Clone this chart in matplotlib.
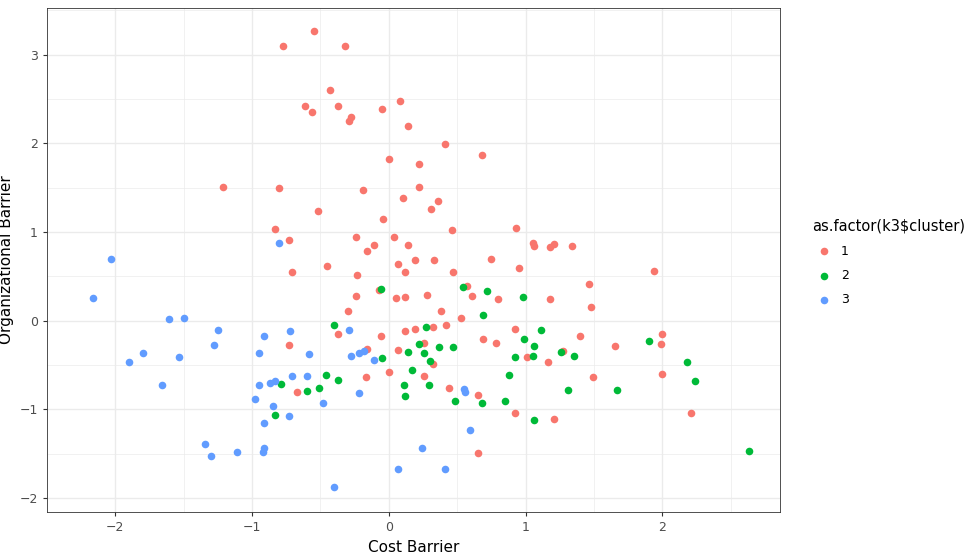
import matplotlib
matplotlib.use("Agg")
import matplotlib.pyplot as plt
import numpy as np

c1_x = [-0.55,-0.77,-0.32,-0.43,-0.61,-0.56,-0.37,-0.28,-0.29,0.08,-0.05,0.14,0.41,0,0.22,0.68,-1.21,-0.80,0.22,-0.19,0.10,0.36,0.31,-0.52,-0.04,0.46,0.93,-0.83,-0.73,-0.24,0.04,0.14,-0.16,-0.11,1.05,1.06,1.21,1.18,1.34,1.94,-0.71,-0.45,-0.23,0.07,0.19,0.33,0.12,0.47,0.75,0.95,1.46,-0.07,-0.24,0.12,0.05,0.28,0.57,0.61,0.80,1.18,1.48,0.38,-0.30,0.53,0.42,0.32,0.12,0.19,-0.06,-0.37,0.92,1.40,2.00,0.69,0.78,0.26,0.07,-0.16,-0.73,1.27,1.65,1.99,1.01,1.16,0.32,0,0.26,-0.17,1.49,2.00,0.44,-0.67,0.65,0.92,1.21,2.21,0.65]
c1_y = [3.27,3.10,3.10,2.60,2.42,2.35,2.42,2.30,2.25,2.48,2.39,2.20,1.99,1.82,1.77,1.87,1.51,1.50,1.51,1.47,1.39,1.35,1.26,1.24,1.15,1.02,1.05,1.04,0.91,0.94,0.94,0.85,0.79,0.85,0.88,0.84,0.87,0.83,0.84,0.56,0.55,0.62,0.52,0.64,0.69,0.69,0.55,0.55,0.70,0.59,0.41,0.35,0.28,0.27,0.26,0.29,0.39,0.28,0.24,0.24,0.15,0.11,0.11,0.03,-0.05,-0.07,-0.12,-0.09,-0.17,-0.15,-0.09,-0.17,-0.15,-0.21,-0.25,-0.25,-0.33,-0.32,-0.27,-0.34,-0.29,-0.26,-0.41,-0.46,-0.49,-0.58,-0.62,-0.64,-0.64,-0.60,-0.76,-0.80,-0.84,-1.04,-1.11,-1.04,-1.49]
c2_x = [-0.06,0.54,0.72,0.98,0.69,-0.40,0.27,1.11,0.22,0.47,0.37,0.99,1.06,1.26,1.35,1.90,0.14,0.26,0.30,0.92,1.05,-0.05,0.17,2.18,-0.46,-0.37,-0.79,2.24,0.88,0.11,0.29,-0.51,-0.60,1.67,1.31,0.12,0.48,0.68,0.85,-0.83,1.06,2.63]
c2_y = [0.36,0.38,0.33,0.27,0.06,-0.05,-0.07,-0.10,-0.26,-0.30,-0.30,-0.21,-0.29,-0.35,-0.40,-0.23,-0.35,-0.36,-0.45,-0.41,-0.40,-0.42,-0.56,-0.47,-0.61,-0.67,-0.71,-0.68,-0.61,-0.73,-0.73,-0.76,-0.79,-0.78,-0.78,-0.85,-0.90,-0.93,-0.90,-1.06,-1.12,-1.47]
c3_x = [-2.03,-2.16,-1.50,-1.61,-1.25,-1.28,-1.80,-1.53,-1.90,-1.66,-0.80,-0.91,-0.72,-0.95,-0.29,-0.22,-0.18,-0.28,-0.11,-0.58,-0.95,-0.87,-0.83,-0.71,-0.60,-0.98,-0.85,-0.48,-0.22,-0.73,-0.91,0.55,0.56,0.59,-1.34,-1.30,-1.11,-0.91,-0.92,0.24,0.07,0.41,-0.40]
c3_y = [0.70,0.26,0.03,0.02,-0.10,-0.27,-0.36,-0.41,-0.47,-0.73,0.88,-0.17,-0.11,-0.36,-0.10,-0.36,-0.34,-0.40,-0.44,-0.38,-0.73,-0.70,-0.68,-0.62,-0.62,-0.88,-0.96,-0.93,-0.82,-1.07,-1.15,-0.77,-0.80,-1.23,-1.39,-1.52,-1.48,-1.44,-1.48,-1.44,-1.67,-1.67,-1.88]
labels = ["1", "2", "3"]
colors = ["#F8766D", "#00BA38", "#619CFF"]

fig = plt.figure(figsize=(9.74, 5.58), dpi=100)
ax = fig.add_axes([0.048, 0.082, 0.753, 0.904])
for xs, ys, lab, col in zip([c1_x, c2_x, c3_x], [c1_y, c2_y, c3_y], labels, colors):
    ax.scatter(xs, ys, s=30, color=col, label=lab, linewidths=0, zorder=3)
ax.set_xlim(-2.42, 2.86)
ax.set_ylim(-2.16, 3.53)
ax.set_xticks([-2, -1, 0, 1, 2])
ax.set_yticks([-2, -1, 0, 1, 2, 3])
ax.set_xticks(np.arange(-2.5, 3, 1), minor=True)
ax.set_yticks(np.arange(-1.5, 3.6, 1), minor=True)
ax.grid(True, which="major", color="#EBEBEB", lw=1.0, zorder=0)
ax.grid(True, which="minor", color="#EBEBEB", lw=0.5, zorder=0)
ax.tick_params(which="minor", length=0)
ax.tick_params(which="major", length=3, color="#333333", labelsize=9, labelcolor="#4D4D4D")
for s in ax.spines.values():
    s.set_color("#333333"); s.set_linewidth(0.6)
ax.set_xlabel("Cost Barrier", fontsize=11)
ax.set_ylabel("Organizational Barrier", fontsize=11)
leg = fig.legend(title="as.factor(k3$cluster)", loc="center left", bbox_to_anchor=(0.822, 0.53),
                 frameon=False, fontsize=9, title_fontsize=10.5, handletextpad=0.3, labelspacing=0.9)
leg._legend_box.align = "left"
fig.savefig("out.png", dpi=100)
